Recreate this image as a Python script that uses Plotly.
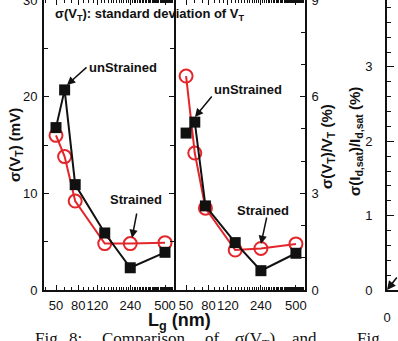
import math
import plotly.graph_objects as go

W, H = 398, 341

# Gate length (nm) and variability data
lg_nm = [50, 60, 75, 140, 240, 500]
sigma_vt_unstrained = [16.8, 20.7, 10.9, 5.9, 2.3, 3.9]      # mV
sigma_vt_strained = [16.0, 13.8, 9.2, 4.8, 4.8, 4.9]         # mV
rel_vt_unstrained = [4.87, 5.21, 2.61, 1.47, 0.60, 1.14]     # %
rel_vt_strained = [6.64, 4.25, 2.54, 1.24, 1.29, 1.43]       # %

lg_tickvals = [50, 80, 120, 240, 500]
lg_ticktext = ["50", "80", "120", "240", "500"]
lg_minor = list(range(40, 610, 10))

FONT = "Liberation Sans, Arial, sans-serif"
SERIF = "Liberation Serif, Times New Roman, serif"
RED = "#e3262b"
BLACK = "#111111"


def px(x):
    return x / W


def py(y):
    return 1 - y / H


y_dom = [py(290), 1.0]
x_lo = math.log10(50) - 12 / 109
x_hi = x_lo + 130 / 109

tickfont = dict(family=FONT, size=13, color=BLACK)

common_x = dict(
    type="log", range=[x_lo, x_hi], tickmode="array",
    tickvals=lg_tickvals, ticktext=lg_ticktext, tickangle=0,
    ticks="inside", ticklen=5, tickwidth=1.3, tickcolor=BLACK,
    minor=dict(tickmode="array", tickvals=lg_minor, ticks="inside",
               ticklen=3, tickwidth=1, tickcolor=BLACK),
    showline=True, linewidth=2, linecolor=BLACK, mirror="allticks",
    showgrid=False, zeroline=False, tickfont=tickfont, ticklabelstandoff=2,
    automargin=False,
)

fig = go.Figure()

# Left panel: sigma(VT) in mV
fig.add_trace(go.Scatter(
    x=lg_nm, y=sigma_vt_strained, mode="lines+markers", name="Strained",
    line=dict(color=RED, width=2),
    marker=dict(symbol="circle-open", size=13, color=RED, line=dict(width=2)),
    xaxis="x", yaxis="y"))
fig.add_trace(go.Scatter(
    x=lg_nm, y=sigma_vt_unstrained, mode="lines+markers", name="unStrained",
    line=dict(color=BLACK, width=2),
    marker=dict(symbol="square", size=11, color=BLACK),
    xaxis="x", yaxis="y"))

# Middle panel: sigma(VT)/VT in %
fig.add_trace(go.Scatter(
    x=lg_nm, y=rel_vt_strained, mode="lines+markers", name="Strained",
    line=dict(color=RED, width=2),
    marker=dict(symbol="circle-open", size=13, color=RED, line=dict(width=2)),
    xaxis="x2", yaxis="y3"))
fig.add_trace(go.Scatter(
    x=lg_nm, y=rel_vt_unstrained, mode="lines+markers", name="unStrained",
    line=dict(color=BLACK, width=2),
    marker=dict(symbol="square", size=11, color=BLACK),
    xaxis="x2", yaxis="y3"))

# Right panel (Id,sat variability) frame
fig.add_trace(go.Scatter(x=[], y=[], mode="lines", xaxis="x4", yaxis="y4",
                         showlegend=False))

fig.update_layout(
    width=W, height=H,
    margin=dict(l=0, r=0, t=0, b=0),
    paper_bgcolor="white", plot_bgcolor="white",
    showlegend=False,
    xaxis=dict(common_x, domain=[px(44), px(174)], anchor="y"),
    yaxis=dict(domain=y_dom, range=[0, 30], anchor="x",
               tickvals=[0, 10, 20, 30], ticks="inside", ticklen=5,
               tickwidth=1.3, tickcolor=BLACK,
               minor=dict(dtick=5, tick0=0, ticks="inside", ticklen=4,
                          tickcolor=BLACK),
               showline=True, linewidth=2, linecolor=BLACK,
               mirror="allticks", showgrid=False, zeroline=False,
               tickfont=tickfont, ticklabelstandoff=2, automargin=False,
               ticklabeloverflow="allow"),
    xaxis2=dict(common_x, domain=[px(174), px(305)], anchor="y2"),
    yaxis2=dict(domain=y_dom, range=[0, 30], anchor="x2",
                dtick=5, ticks="inside", ticklen=4, tickcolor=BLACK,
                showticklabels=False, showline=True, linewidth=2,
                linecolor=BLACK, showgrid=False, zeroline=False,
                automargin=False),
    yaxis3=dict(overlaying="y2", side="right", anchor="x2", range=[0, 9],
                domain=y_dom,
                tickvals=[0, 3, 6, 9], ticks="inside", ticklen=5,
                tickwidth=1.3, tickcolor=BLACK,
                minor=dict(dtick=1, tick0=0, ticks="inside", ticklen=4,
                           tickcolor=BLACK),
                showline=True, linewidth=2, linecolor=BLACK,
                showgrid=False, zeroline=False, tickfont=tickfont,
                ticklabelstandoff=2, automargin=False,
                ticklabeloverflow="allow"),
    xaxis4=dict(domain=[px(387), 1.0], anchor="y4", range=[0, 1],
                tickvals=[0], ticks="", showline=True, linewidth=2,
                linecolor=BLACK, showgrid=False, zeroline=False,
                tickfont=tickfont, ticklabelstandoff=14, automargin=False),
    yaxis4=dict(domain=y_dom, anchor="x4", range=[0, 3.9],
                tickvals=[0, 1, 2, 3], ticks="inside", ticklen=7,
                tickwidth=1.3, tickcolor=BLACK,
                minor=dict(dtick=0.2, tick0=0, ticks="inside", ticklen=4,
                           tickcolor=BLACK),
                showline=True, linewidth=2, linecolor=BLACK,
                showgrid=False, zeroline=False, tickfont=tickfont,
                ticklabelstandoff=10, automargin=False),
)

ann = []


def text(x, y, s, size=13, angle=0, xanchor="center", family=FONT,
         yanchor="middle"):
    ann.append(dict(x=px(x), y=py(y), xref="paper", yref="paper", text=s,
                    showarrow=False, textangle=angle, xanchor=xanchor,
                    yanchor=yanchor,
                    font=dict(family=family, size=size, color=BLACK)))


def arrow(hx, hy, tx, ty):
    ann.append(dict(x=px(hx), y=py(hy), xref="paper", yref="paper", text="",
                    showarrow=True, ax=tx - hx, ay=ty - hy, arrowhead=2,
                    arrowsize=1.1, arrowwidth=1.5, arrowcolor=BLACK))


text(53, 15, "<b>σ(V<sub>T</sub>): standard deviation of V<sub>T</sub></b>",
     size=13, xanchor="left")
text(123, 67, "<b>unStrained</b>", size=13)
arrow(67, 85, 88, 66)
text(136, 199, "<b>Strained</b>", size=13)
arrow(132, 238, 137, 212)
text(248, 89, "<b>unStrained</b>", size=13)
arrow(195, 117, 213, 95)
text(263, 210, "<b>Strained</b>", size=13)
arrow(261, 244, 267, 216)

# Axis titles
text(15, 145, "<b>σ(V<sub>T</sub>) (mV)</b>", size=15, angle=-90)
text(327, 147, "<b>σ(V<sub>T</sub>)/V<sub>T</sub> (%)</b>", size=15, angle=-90)
text(355, 142, "<b>σ(I<sub>d,sat</sub>)/I<sub>d,sat</sub> (%)</b>", size=15,
     angle=-90)
text(179, 321, "<b>L<sub>g</sub> (nm)</b>", size=18)

# Arrow into the origin of the Id,sat panel
ann.append(dict(x=0, y=0, xref="x4", yref="y4", text="", showarrow=True,
                ax=16, ay=-14, arrowhead=2, arrowsize=1.1, arrowwidth=1.6,
                arrowcolor=BLACK))

# Figure caption line
for left, word in [(33, "Fig."), (67, "8:"), (100, "Comparison"),
                   (203, "of"), (233, "σ(V<sub>T</sub>)"), (290, "and"),
                   (355, "Fig")]:
    text(left, 327, word, size=17, xanchor="left", family=SERIF,
         yanchor="top")

fig.update_layout(annotations=ann)
fig.write_html("out.html")
